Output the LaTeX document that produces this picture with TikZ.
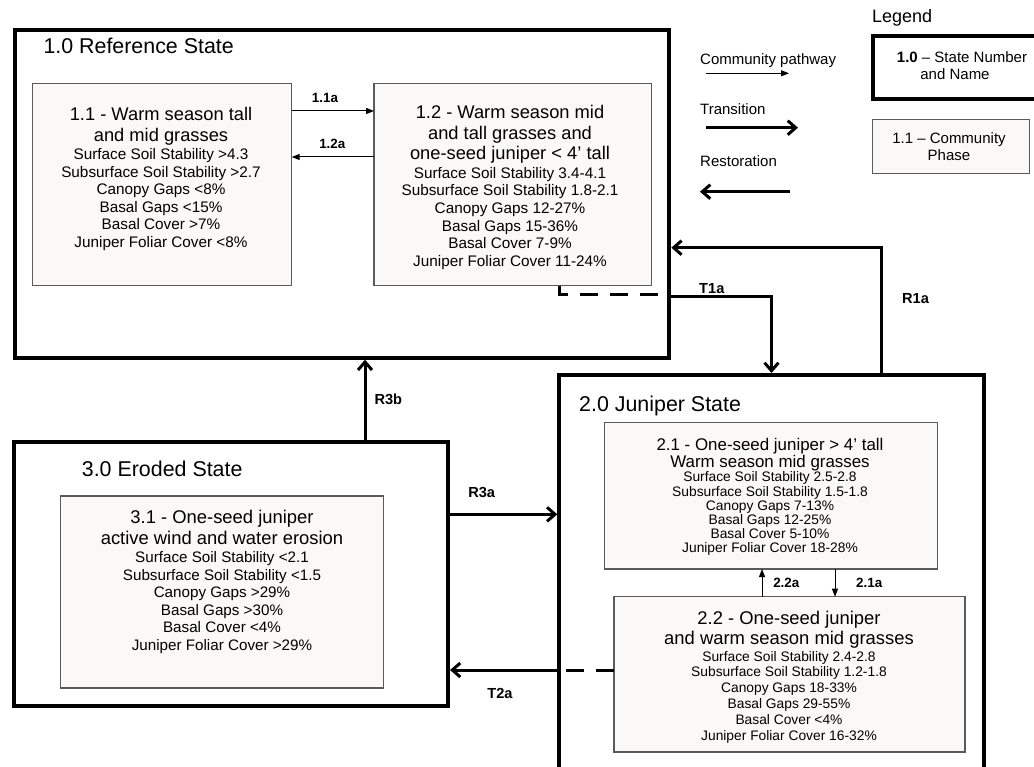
\documentclass[tikz,border=0pt]{standalone}
\usepackage{fontspec}
\setmainfont{Liberation Sans}
\usetikzlibrary{arrows.meta}
\definecolor{phasefill}{HTML}{FAF9F8}
\definecolor{phaseline}{HTML}{5A5A5A}
\newcommand{\phtitle}[2]{{\fontsize{#1}{#1}\selectfont #2}}
\begin{document}
\begin{tikzpicture}[x=1pt,y=-1pt,
  statebox/.style={draw=black, line width=4pt, inner sep=0pt, outer sep=2pt, anchor=north west},
  phasebox/.style={draw=phaseline, fill=phasefill, line width=1.1pt, inner sep=0pt, outer sep=0pt, anchor=north west},
  ptext/.style={align=center, inner sep=0pt, anchor=north},
  stitle/.style={font=\fontsize{21.4}{25}\selectfont, inner sep=0pt, anchor=base west},
  tlbl/.style={font=\bfseries\fontsize{14.6}{16}\selectfont, inner sep=0pt, anchor=base},
  clbl/.style={font=\bfseries\fontsize{13.4}{16}\selectfont, inner sep=0pt, anchor=base},
  comm/.style={line width=1pt, -{Triangle[length=8pt,width=6pt]}},
  trans/.style={line width=3pt, -{Straight Barb[length=8pt,width=14pt]}},
  dashline/.style={line width=3pt, dash pattern=on 18pt off 12pt},
  legtext/.style={font=\fontsize{15}{17}\selectfont, inner sep=0pt, anchor=base west},
]
\clip (0,0) rectangle (1034,767);

% ---------- states ----------
\node[statebox, minimum width=654.8pt, minimum height=327.7pt] (s1) at (12.5,28) {};
\node[statebox, minimum width=424.3pt, minimum height=430pt] (s2) at (557.3,373) {};
\node[statebox, minimum width=434pt, minimum height=264.3pt] (s3) at (12,439.7) {};

\node[stitle] (s1t) at (43.3,53.3) {1.0 Reference State};
\node[stitle] (s2t) at (579,411.7) {2.0 Juniper State};
\node[stitle] (s3t) at (81.7,476) {3.0 Eroded State};

% ---------- phases ----------
\node[phasebox, minimum width=259.4pt, minimum height=202.4pt] (p11) at (32.3,83.5) {};
\node[phasebox, minimum width=277.6pt, minimum height=202.2pt] (p12) at (374,83.5) {};
\node[phasebox, minimum width=332.6pt, minimum height=146.3pt] (p21) at (604.7,422.7) {};
\node[phasebox, minimum width=351pt, minimum height=155.3pt] (p22) at (614,596.7) {};
\node[phasebox, minimum width=323.4pt, minimum height=192pt] (p31) at (60.3,496) {};

\node[ptext, font={\fontsize{15.3}{17.5}\selectfont\lineskiplimit=-30pt\relax}] (t11) at (161,106.8)
 {\phtitle{18.3}{1.1 - Warm season tall}\\[3.5pt]
  \phtitle{18.3}{and mid grasses}\\[0.8pt]
  Surface Soil Stability >4.3\\
  Subsurface Soil Stability >2.7\\
  Canopy Gaps <8\%\\
  Basal Gaps <15\%\\
  Basal Cover >7\%\\
  Juniper Foliar Cover <8\%};

\node[ptext, font={\fontsize{15.3}{17.6}\selectfont\lineskiplimit=-30pt\relax}] (t12) at (510,104.8)
 {\phtitle{18.3}{1.2 - Warm season mid}\\[3.4pt]
  \phtitle{18.3}{and tall grasses and}\\[2.4pt]
  \phtitle{18.3}{one-seed juniper < 4’ tall}\\[1.4pt]
  Surface Soil Stability 3.4-4.1\\
  Subsurface Soil Stability 1.8-2.1\\
  Canopy Gaps 12-27\%\\
  Basal Gaps 15-36\%\\
  Basal Cover 7-9\%\\
  Juniper Foliar Cover 11-24\%};

\node[ptext, font={\fontsize{13.8}{14.2}\selectfont\lineskiplimit=-30pt\relax}] (t21) at (770,437.8)
 {\phtitle{16.9}{2.1 - One-seed juniper > 4’ tall}\\[3.1pt]
  \phtitle{16.9}{Warm season mid grasses}\\[0.2pt]
  Surface Soil Stability 2.5-2.8\\
  Subsurface Soil Stability 1.5-1.8\\
  Canopy Gaps 7-13\%\\
  Basal Gaps 12-25\%\\
  Basal Cover 5-10\%\\
  Juniper Foliar Cover 18-28\%};

\node[ptext, font={\fontsize{13.8}{15.8}\selectfont\lineskiplimit=-30pt\relax}] (t22) at (789,610.8)
 {\phtitle{18.4}{2.2 - One-seed juniper}\\[4.5pt]
  \phtitle{18.4}{and warm season mid grasses}\\[0.6pt]
  Surface Soil Stability 2.4-2.8\\
  Subsurface Soil Stability 1.2-1.8\\
  Canopy Gaps 18-33\%\\
  Basal Gaps 29-55\%\\
  Basal Cover <4\%\\
  Juniper Foliar Cover 16-32\%};

\node[ptext, font={\fontsize{15.2}{17.5}\selectfont\lineskiplimit=-30pt\relax}] (t31) at (222,510.1)
 {\phtitle{18.4}{3.1 - One-seed juniper}\\[3.5pt]
  \phtitle{18.4}{active wind and water erosion}\\[0.5pt]
  Surface Soil Stability <2.1\\
  Subsurface Soil Stability <1.5\\
  Canopy Gaps >29\%\\
  Basal Gaps >30\%\\
  Basal Cover <4\%\\
  Juniper Foliar Cover >29\%};

% ---------- community pathways ----------
\draw[comm] (p11.east |- 0,111) -- (p12.west |- 0,111);
\draw[comm] (p12.west |- 0,157) -- (p11.east |- 0,157);
\draw[comm] (p22.north -| 762,0) -- (p21.south -| 762,0);
\draw[comm] (p21.south -| 835,0) -- (p22.north -| 835,0);
\node[clbl] (l11a) at (325,102.7) {1.1a};
\node[clbl] (l12a) at (332.3,148.3) {1.2a};
\node[clbl] (l22a) at (786.3,587.3) {2.2a};
\node[clbl] (l21a) at (869.2,587.3) {2.1a};

% ---------- transitions / restorations ----------
\draw[dashline] (p12.south -| 559,0) |- (s1.east |- 0,294.7);
\draw[trans] (s1.east |- 0,296.7) -| (s2.north -| 771.5,0);
\draw[trans] (s2.north -| 881.5,0) |- (s1.east |- 0,247.7);
\draw[trans] (s3.north -| 365,0) -- (s1.south -| 365,0);
\draw[trans] (s3.east |- 0,514.3) -- (s2.west |- 0,514.3);
\draw[dashline] (p22.west |- 0,670) -- (s2.west |- 0,670);
\draw[trans] (s2.west |- 0,670) -- (s3.east |- 0,670);

\node[tlbl] (lT1a) at (711.8,294) {T1a};
\node[tlbl] (lR1a) at (915.5,303.3) {R1a};
\node[tlbl] (lR3b) at (388.3,404) {R3b};
\node[tlbl] (lR3a) at (481.7,497.3) {R3a};
\node[tlbl] (lT2a) at (500,698.3) {T2a};

% ---------- legend ----------
\node[inner sep=0pt, anchor=base west, font=\fontsize{18}{20}\selectfont] (leg) at (872,22.7) {Legend};
\node[legtext] (lcp) at (700,65) {Community pathway};
\node[legtext] (ltr) at (700,115) {Transition};
\node[legtext] (lre) at (700,166.7) {Restoration};
\coordinate (a1s) at (706,73.3);  \coordinate (a1e) at (789,73.3);
\coordinate (a2s) at (706,127.7); \coordinate (a2e) at (798,127.7);
\coordinate (a3s) at (790,191.7); \coordinate (a3e) at (700,191.7);
\draw[comm] (a1s) -- (a1e);
\draw[trans] (a2s) -- (a2e);
\draw[trans] (a3s) -- (a3e);

\node[statebox, minimum width=180pt, minimum height=63pt] (lgs) at (871,34) {};
\node[align=center, inner sep=0pt, anchor=north, font={\fontsize{15}{17}\selectfont}] (lgst) at (962,51)
 {\textbf{1.0} – State Number\\and Name\hspace*{14pt}};
\node[phasebox, minimum width=157pt, minimum height=54pt] (lgp) at (872.3,119.3) {};
\node[align=center, inner sep=0pt, anchor=north, font={\fontsize{15}{17}\selectfont}] (lgpt) at (949,132.2)
 {1.1 – Community\\Phase};
\end{tikzpicture}
\end{document}
